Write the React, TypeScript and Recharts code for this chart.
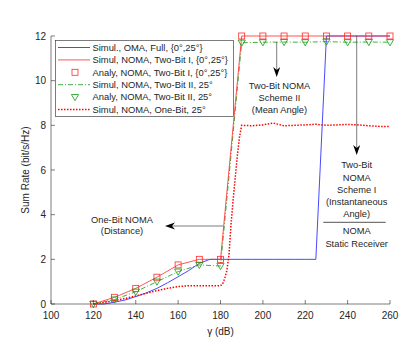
import React from 'react';
import { ComposedChart, Line, XAxis, YAxis, Legend } from 'recharts';

// analytical points / two-bit curves (every 10 dB)
const gammaCoarse = [120, 130, 140, 150, 160, 170, 180, 190, 200, 210, 220, 230, 240, 250, 260];
const twoBitI = [0, 0.3, 0.7, 1.2, 1.75, 2.0, 2.0, 12, 12, 12, 12, 12, 12, 12, 12];
const twoBitII = [0, 0.2, 0.55, 1.0, 1.45, 1.75, 1.7, 11.7, 11.72, 11.73, 11.72, 11.75, 11.72, 11.73, 11.72];

// OMA, full
const omaGamma = [
  120, 125, 130, 135, 140, 145, 150, 155, 160, 165, 170, 175, 180, 185, 190, 195, 200,
  205, 210, 215, 220, 225, 230, 235, 240, 245, 250, 255, 260,
];
const omaRate = [
  0, 0, 0.08, 0.18, 0.33, 0.5, 0.7, 0.95, 1.22, 1.5, 1.82, 2.0, 2.0, 2.0, 2.0, 2.0, 2.0,
  2.0, 2.0, 2.0, 2.0, 2.0, 12, 12, 12, 12, 12, 12, 12,
];

// one-bit NOMA
const oneBitGamma = [
  120, 125, 130, 135, 140, 145, 150, 155, 160, 165, 170, 175, 180, 181, 182, 183, 184, 185,
  186, 187, 188, 189, 190, 195, 200, 205, 210, 215, 220, 225, 230, 235, 240, 245, 250, 255, 260,
];
const oneBitRate = [
  0, 0.07, 0.15, 0.25, 0.36, 0.48, 0.6, 0.7, 0.78, 0.82, 0.82, 0.82, 0.82, 0.9, 1.15, 1.5, 2.2, 3.6,
  4.7, 5.7, 6.7, 7.5, 8.0, 7.98, 8.02, 8.1, 7.98, 8.0, 8.02, 8.05, 8.0, 8.02, 8.04, 8.02, 7.98, 7.95, 7.95,
];

const xTicks = [100, 120, 140, 160, 180, 200, 220, 240, 260];
const yTicks = [0, 2, 4, 6, 8, 10, 12];

const zip = (xs: number[], ys: number[]) => xs.map((x, i) => ({ x, y: ys[i] }));

const omaData = zip(omaGamma, omaRate);
const twoBitIData = zip(gammaCoarse, twoBitI);
const twoBitIIData = zip(gammaCoarse, twoBitII);
const oneBitData = zip(oneBitGamma, oneBitRate);

const AX = '#262626';
const BLUE = '#1a1aff';
const RED = '#ff2a2a';
const GREEN = '#109a10';
const TICK = 4;

const BottomTick = (p: any) => (
  <g>
    <line x1={p.x} x2={p.x} y1={p.y - 11} y2={p.y - 11 - TICK} stroke={AX} strokeWidth={0.6} />
    <text x={p.x} y={p.y} dy="0.35em" textAnchor="middle" fontSize={10} fill={AX}>
      {p.payload.value}
    </text>
  </g>
);

const LeftTick = (p: any) => (
  <g>
    <line x1={p.x + 5} x2={p.x + 5 + TICK} y1={p.y} y2={p.y} stroke={AX} strokeWidth={0.6} />
    <text x={p.x} y={p.y} dy="0.35em" textAnchor="end" fontSize={10} fill={AX}>
      {p.payload.value}
    </text>
  </g>
);

const TopTick = (p: any) => (
  <line x1={p.x} x2={p.x} y1={p.y} y2={p.y + TICK} stroke={AX} strokeWidth={0.6} />
);

const RightTick = (p: any) => (
  <line x1={p.x} x2={p.x - TICK} y1={p.y} y2={p.y} stroke={AX} strokeWidth={0.6} />
);

const Square = ({ cx, cy, stroke }: { cx?: number; cy?: number; stroke: string }) =>
  cx == null || cy == null ? <g /> : (
    <rect x={cx - 3} y={cy - 3} width={6} height={6} fill="none" stroke={stroke} strokeWidth={0.8} />
  );

const Triangle = ({ cx, cy, stroke }: { cx?: number; cy?: number; stroke: string }) =>
  cx == null || cy == null ? <g /> : (
    <path
      d={`M${cx - 3.6},${cy - 2.6} L${cx + 3.6},${cy - 2.6} L${cx},${cy + 3.6} Z`}
      fill="none"
      stroke={stroke}
      strokeWidth={0.8}
    />
  );

const legendRows = [
  { label: 'Simul., OMA, Full, {0°,25°}', color: BLUE, dash: undefined, width: 0.8, marker: null },
  { label: 'Simul, NOMA, Two-Bit I, {0°,25°}', color: RED, dash: undefined, width: 0.8, marker: null },
  { label: 'Analy, NOMA, Two-Bit I, {0°,25°}', color: RED, dash: undefined, width: 0, marker: 'square' },
  { label: 'Simul, NOMA, Two-Bit II, 25°', color: GREEN, dash: '5 2 1 2', width: 0.8, marker: null },
  { label: 'Analy, NOMA, Two-Bit II, 25°', color: GREEN, dash: undefined, width: 0, marker: 'triangle' },
  { label: 'Simul, NOMA, One-Bit, 25°', color: '#ff0000', dash: '1.5 1.5', width: 1.5, marker: null },
];

const renderLegend = () => (
  <svg width={179} height={77} style={{ display: 'block' }}>
    <rect x={0.5} y={0.5} width={178} height={76} fill="#fff" stroke={AX} strokeWidth={0.6} />
    {legendRows.map((r, i) => {
      const y = 7.5 + i * 12.4;
      return (
        <g key={i}>
          {r.width > 0 && (
            <line x1={3} x2={35} y1={y} y2={y} stroke={r.color} strokeWidth={r.width} strokeDasharray={r.dash} />
          )}
          {r.marker === 'square' && <Square cx={20} cy={y} stroke={r.color} />}
          {r.marker === 'triangle' && <Triangle cx={20} cy={y} stroke={r.color} />}
          <text x={37.5} y={y} dy="0.35em" fontSize={9.4} fill={AX}>
            {r.label}
          </text>
        </g>
      );
    })}
  </svg>
);

const notes = [
  { x: 122, y: 219.3, t: 'One-Bit NOMA' },
  { x: 122, y: 230.7, t: '(Distance)' },
  { x: 279.5, y: 85.7, t: 'Two-Bit NOMA' },
  { x: 279.5, y: 97.7, t: 'Scheme II' },
  { x: 279.5, y: 109.5, t: '(Mean Angle)' },
  { x: 356.7, y: 165, t: 'Two-Bit' },
  { x: 356.7, y: 177.3, t: 'NOMA' },
  { x: 356.7, y: 189.3, t: 'Scheme I' },
  { x: 356.7, y: 201.7, t: '(Instantaneous' },
  { x: 356.7, y: 213.5, t: 'Angle)' },
  { x: 356.7, y: 231, t: 'NOMA' },
  { x: 356.7, y: 243.3, t: 'Static Receiver' },
];

const downHead = (x: number, y: number) => `M${x},${y} L${x - 3.5},${y - 10} L${x},${y - 7} L${x + 3.5},${y - 10} Z`;
const leftHead = (x: number, y: number) => `M${x},${y} L${x + 10},${y - 3.5} L${x + 7},${y} L${x + 10},${y + 3.5} Z`;

export default function App() {
  return (
    <div
      style={{
        position: 'absolute',
        left: 0,
        top: 0,
        width: 415,
        height: 347,
        background: '#fff',
        fontFamily: '"Liberation Sans", Arial, sans-serif',
      }}
    >
      <ComposedChart width={415} height={347} margin={{ top: 36, right: 25, bottom: 0, left: 0 }}>
        <XAxis
          dataKey="x"
          type="number"
          domain={[100, 260]}
          ticks={xTicks}
          height={43}
          tickSize={0}
          tickMargin={11}
          tick={<BottomTick />}
          axisLine={{ stroke: AX, strokeWidth: 0.6 }}
          label={{ value: 'γ (dB)', position: 'center', dy: 6, fontSize: 10, fill: AX }}
        />
        <XAxis
          xAxisId="top"
          orientation="top"
          dataKey="x"
          type="number"
          domain={[100, 260]}
          ticks={xTicks}
          height={0}
          tickSize={0}
          tickMargin={0}
          tick={<TopTick />}
          axisLine={{ stroke: AX, strokeWidth: 0.6 }}
        />
        <YAxis
          type="number"
          domain={[0, 12]}
          ticks={yTicks}
          width={51}
          tickSize={0}
          tickMargin={5}
          tick={<LeftTick />}
          axisLine={{ stroke: AX, strokeWidth: 0.6 }}
          label={{ value: 'Sum Rate (bit/s/Hz)', angle: -90, position: 'center', dx: 0, fontSize: 10, fill: AX }}
        />
        <YAxis
          yAxisId="right"
          orientation="right"
          type="number"
          domain={[0, 12]}
          ticks={yTicks}
          width={0}
          tickSize={0}
          tickMargin={0}
          tick={<RightTick />}
          axisLine={{ stroke: AX, strokeWidth: 0.6 }}
        />
        <Legend
          layout="vertical"
          align="center"
          verticalAlign="middle"
          content={renderLegend}
          wrapperStyle={{ left: 55, top: 40, width: 179, height: 77 }}
        />
        <Line data={omaData} dataKey="y" stroke={BLUE} strokeWidth={0.8} dot={false} isAnimationActive={false} />
        <Line
          data={oneBitData}
          dataKey="y"
          stroke="#ff0000"
          strokeWidth={1.5}
          strokeDasharray="1.5 1.5"
          dot={false}
          isAnimationActive={false}
        />
        <Line
          data={twoBitIIData}
          dataKey="y"
          stroke={GREEN}
          strokeWidth={0.8}
          strokeDasharray="5 2 1 2"
          dot={false}
          isAnimationActive={false}
        />
        <Line data={twoBitIData} dataKey="y" stroke={RED} strokeWidth={0.8} dot={false} isAnimationActive={false} />
        <Line
          data={twoBitIData}
          dataKey="y"
          stroke="none"
          dot={(p: any) => <Square key={p.index} cx={p.cx} cy={p.cy} stroke={RED} />}
          isAnimationActive={false}
        />
        <Line
          data={twoBitIIData}
          dataKey="y"
          stroke="none"
          dot={(p: any) => <Triangle key={p.index} cx={p.cx} cy={p.cy} stroke={GREEN} />}
          isAnimationActive={false}
        />
      </ComposedChart>
      <svg
        width={415}
        height={347}
        style={{ position: 'absolute', left: 0, top: 0, pointerEvents: 'none' }}
      >
        {notes.map((n, i) => (
          <text key={i} x={n.x} y={n.y} dy="0.35em" textAnchor="middle" fontSize={9.3} fill={AX}>
            {n.t}
          </text>
        ))}
        <line x1={323.3} x2={385.7} y1={222.3} y2={222.3} stroke={AX} strokeWidth={0.8} />
        <line x1={276.7} x2={276.7} y1={42} y2={72} stroke={AX} strokeWidth={0.6} />
        <path d={downHead(276.7, 77)} fill="#000" />
        <line x1={356.7} x2={356.7} y1={36} y2={150} stroke={AX} strokeWidth={0.6} />
        <path d={downHead(356.7, 155)} fill="#000" />
        <line x1={170} x2={223} y1={226} y2={226} stroke={AX} strokeWidth={0.6} />
        <path d={leftHead(165, 226)} fill="#000" />
      </svg>
    </div>
  );
}
